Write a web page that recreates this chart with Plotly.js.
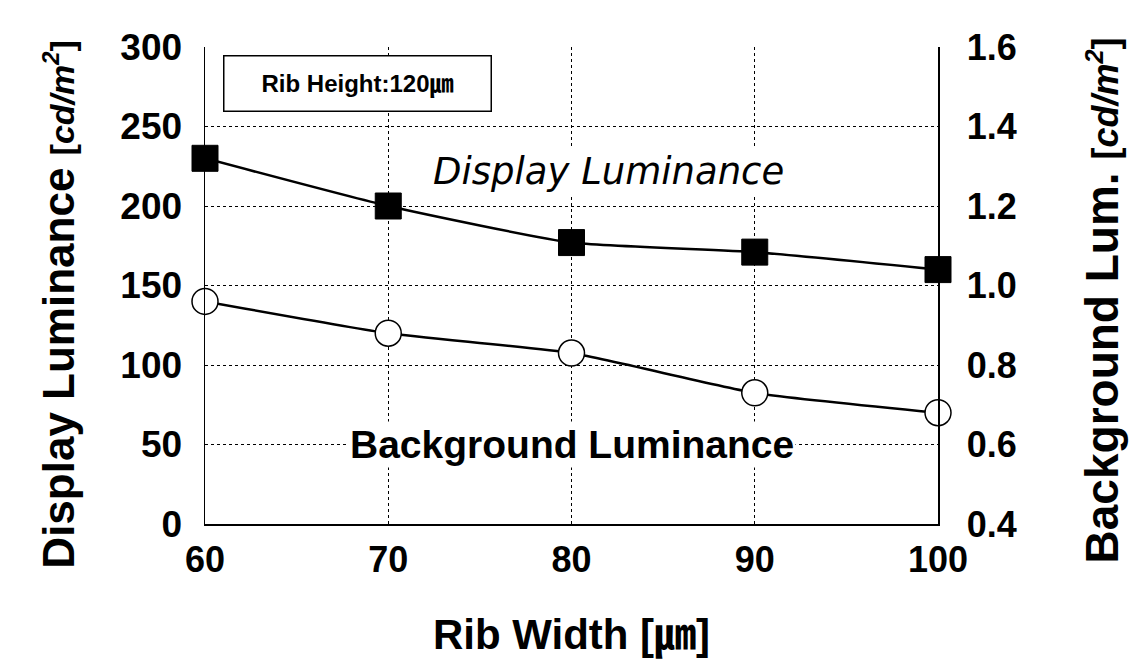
<!DOCTYPE html>
<html>
<head>
<meta charset="utf-8">
<script src="https://cdn.plot.ly/plotly-3.0.1.min.js"></script>
<style>html,body{margin:0;padding:0;background:#fff;}</style>
</head>
<body>
<div id="chart" style="width:1140px;height:659px;"></div>
<script>
const ribWidth = [60, 70, 80, 90, 100];
const displayLum = [230, 200, 177, 171, 160];
const backgroundLum = [0.96, 0.88, 0.83, 0.73, 0.68];
const xTicks = [60, 70, 80, 90, 100];
const yLeftTicks = [0, 50, 100, 150, 200, 250, 300];
const yRightTicks = [0.4, 0.6, 0.8, 1.0, 1.2, 1.4, 1.6];

const FONT = "Liberation Sans, Arial, 'Noto Sans CJK KR', sans-serif";

const traces = [
  {
    x: ribWidth, y: displayLum, type: 'scatter', mode: 'lines+markers',
    name: 'Display Luminance', yaxis: 'y',
    line: {color: '#000', width: 2.5, shape: 'spline', smoothing: 0.5},
    marker: {symbol: 'square', size: 26, color: '#000', line: {color: '#000', width: 1}},
    cliponaxis: false
  },
  {
    x: ribWidth, y: backgroundLum, type: 'scatter', mode: 'lines+markers',
    name: 'Background Luminance', yaxis: 'y2',
    line: {color: '#000', width: 2.5, shape: 'spline', smoothing: 0.5},
    marker: {symbol: 'circle', size: 26, color: '#fff', line: {color: '#000', width: 1.5}},
    cliponaxis: false
  }
];

const layout = {
  width: 1140, height: 659,
  margin: {l: 205, r: 202, t: 47, b: 135},
  paper_bgcolor: '#fff', plot_bgcolor: '#fff',
  showlegend: false,
  font: {family: FONT, color: '#000'},
  xaxis: {
    range: [60, 100], tickvals: xTicks, ticktext: xTicks.map(String),
    showline: true, linecolor: '#000', linewidth: 1.5, mirror: false,
    showgrid: true, gridcolor: '#000', gridwidth: 1, griddash: 'dot',
    zeroline: false, ticks: '', ticklabelstandoff: 3, automargin: false,
    tickfont: {family: FONT, size: 36, color: '#000', weight: 'bold'},
    title: {text: 'Rib Width [\u339B]', standoff: 54,
      font: {family: FONT, size: 42, color: '#000', weight: 'bold'}}
  },
  yaxis: {
    range: [0, 300], tickvals: yLeftTicks, ticktext: yLeftTicks.map(String),
    showline: true, linecolor: '#000', linewidth: 1.5, automargin: false,
    showgrid: true, gridcolor: '#000', gridwidth: 1, griddash: 'dot',
    zeroline: false, ticks: '', ticklabelstandoff: 14,
    tickfont: {family: FONT, size: 37, color: '#000', weight: 'bold'},
    title: {text: "Display Luminance <span style='font-size:34px'>[<i>cd/m<sup>2</sup></i>]&nbsp;&nbsp;&nbsp;&nbsp;</span>", standoff: 32,
      font: {family: FONT, size: 44, color: '#000', weight: 'bold'}}
  },
  yaxis2: {
    range: [0.4, 1.6], tickvals: yRightTicks, ticktext: yRightTicks.map(v => v.toFixed(1)),
    overlaying: 'y', side: 'right', automargin: false,
    showline: true, linecolor: '#000', linewidth: 1.5,
    showgrid: false, zeroline: false, ticks: '', ticklabelstandoff: 20,
    tickfont: {family: FONT, size: 36, color: '#000', weight: 'bold'},
    title: {text: "Background Lum. <span style='font-size:36px'>[<i>cd/m<sup>2</sup></i>]&nbsp;&nbsp;&nbsp;</span>", standoff: 70,
      font: {family: FONT, size: 46, color: '#000', weight: 'bold'}}
  },
  annotations: [
    {x: 68.3, y: 277, xref: 'x', yref: 'y', text: 'Rib Height:120\u339B', showarrow: false,
      font: {family: FONT, size: 24, color: '#000', weight: 'bold'},
      bgcolor: '#fff', bordercolor: '#000', borderwidth: 1.5, width: 264, height: 52},
    {x: 82.0, y: 222, xref: 'x', yref: 'y', text: '<i>Display Luminance</i>', showarrow: false,
      font: {family: "DejaVu Sans, sans-serif", size: 37, color: '#000'}, bgcolor: '#fff'},
    {x: 80.05, y: 50, xref: 'x', yref: 'y', text: 'Background Luminance', showarrow: false,
      font: {family: FONT, size: 39, color: '#000', weight: 'bold'}, bgcolor: '#fff'}
  ]
};

Plotly.newPlot('chart', traces, layout, {displayModeBar: false, staticPlot: true});
</script>
</body>
</html>
